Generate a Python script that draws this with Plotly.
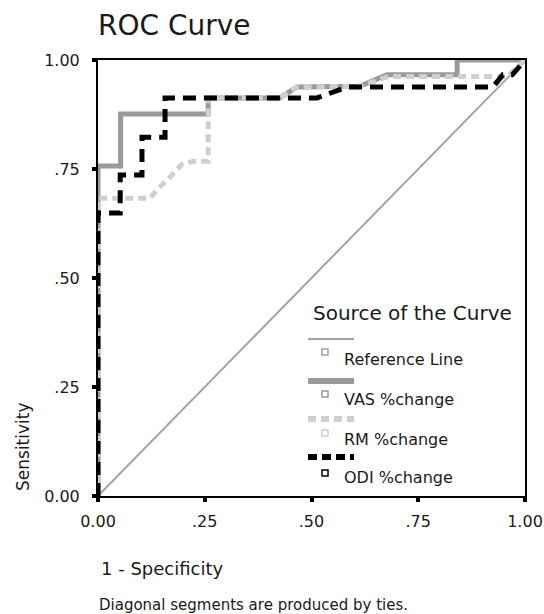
import plotly.graph_objects as go

# ---------------- data ----------------
ref_x = [0.0, 1.0]
ref_y = [0.0, 1.0]

vas_x = [0.0, 0.0, 0.053, 0.053, 0.258, 0.258, 0.426, 0.466, 0.614, 0.677, 0.841, 0.841, 1.0]
vas_y = [0.0, 0.757, 0.757, 0.876, 0.876, 0.913, 0.913, 0.938, 0.940, 0.966, 0.966, 1.0, 1.0]

rm_x = [0.0, 0.0, 0.122, 0.138, 0.169, 0.197, 0.225, 0.258, 0.258, 0.426, 0.466, 0.614, 0.680, 0.958, 1.0]
rm_y = [0.0, 0.683, 0.683, 0.702, 0.732, 0.761, 0.768, 0.768, 0.913, 0.913, 0.938, 0.940, 0.962, 0.962, 1.0]

odi_x = [0.0, 0.0, 0.052, 0.052, 0.103, 0.103, 0.157, 0.157, 0.513, 0.583, 0.925, 0.948, 0.970, 1.0]
odi_y = [0.0, 0.649, 0.649, 0.736, 0.736, 0.823, 0.823, 0.913, 0.913, 0.938, 0.938, 0.966, 0.966, 1.0]

tick_vals = [0.0, 0.25, 0.5, 0.75, 1.0]
tick_text = ["0.00", ".25", ".50", ".75", "1.00"]

series_names = ["Reference Line", "VAS %change", "RM %change", "ODI %change"]

# ---------------- styles ----------------
FONT = "DejaVu Sans"
TXT = "#1a1a1a"
C_REF = "#a3a3a3"
C_VAS = "#9a9a9a"
C_RM = "#cfcfcf"
C_ODI = "#000000"

W, H = 544, 614
L, R, T, B = 98, 525, 60, 496


def px2x(px):
    return (px - L) / (R - L)


def py2y(py):
    return (B - py) / (B - T)


fig = go.Figure()
fig.add_trace(go.Scatter(x=ref_x, y=ref_y, mode="lines", line=dict(color=C_REF, width=2),
                         name=series_names[0], hoverinfo="skip"))
fig.add_trace(go.Scatter(x=vas_x, y=vas_y, mode="lines", line=dict(color=C_VAS, width=5),
                         name=series_names[1]))
fig.add_trace(go.Scatter(x=rm_x, y=rm_y, mode="lines", line=dict(color=C_RM, width=5, dash="8px,5px"),
                         name=series_names[2]))
fig.add_trace(go.Scatter(x=odi_x, y=odi_y, mode="lines", line=dict(color=C_ODI, width=5, dash="13px,8px"),
                         name=series_names[3]))

axis_common = dict(
    range=[0, 1], tickvals=tick_vals, ticktext=tick_text, showgrid=False, zeroline=False,
    showline=True, linecolor="#000", linewidth=2, mirror=True, automargin=False,
    ticks="outside", ticklen=4, tickwidth=4, tickcolor="#000",
    tickfont=dict(family=FONT, size=16, color=TXT),
)
fig.update_xaxes(**axis_common, ticklabelstandoff=6)
fig.update_yaxes(**axis_common, ticklabelstandoff=9)

annotations = [
    dict(text="ROC Curve", x=px2x(96), y=py2y(26), xanchor="left", yanchor="middle",
         font=dict(size=28, family=FONT, color=TXT)),
    dict(text="1 - Specificity", x=px2x(99), y=py2y(568), xanchor="left", yanchor="middle",
         font=dict(size=18, family=FONT, color=TXT)),
    dict(text="Diagonal segments are produced by ties.", x=px2x(97), y=py2y(605), xanchor="left",
         yanchor="middle", font=dict(size=15, family=FONT, color=TXT)),
    dict(text="Sensitivity", x=px2x(23), y=py2y(447), xanchor="center", yanchor="middle", textangle=-90,
         font=dict(size=17, family=FONT, color=TXT)),
    dict(text="Source of the Curve", x=px2x(311), y=py2y(313), xanchor="left", yanchor="middle",
         font=dict(size=20, family=FONT, color=TXT)),
]

shapes = []
leg_line_y = [339, 381, 419, 457]
leg_mark_y = [352, 394, 433, 473]
leg_text_y = [359, 399, 439, 477]
leg_styles = [
    dict(color=C_REF, width=2),
    dict(color=C_VAS, width=6),
    dict(color=C_RM, width=6, dash="8px,5px"),
    dict(color=C_ODI, width=6, dash="9px,5px"),
]
leg_mark_col = [C_REF, C_VAS, C_RM, C_ODI]
for i, name in enumerate(series_names):
    shapes.append(dict(type="line", xref="paper", yref="paper",
                       x0=px2x(308), x1=px2x(354), y0=py2y(leg_line_y[i]), y1=py2y(leg_line_y[i]),
                       line=leg_styles[i]))
    shapes.append(dict(type="rect", xref="paper", yref="paper",
                       x0=px2x(322), x1=px2x(328), y0=py2y(leg_mark_y[i] + 3), y1=py2y(leg_mark_y[i] - 3),
                       line=dict(color=leg_mark_col[i], width=1.5), fillcolor="white"))
    annotations.append(dict(text=name, x=px2x(342), y=py2y(leg_text_y[i]), xanchor="left", yanchor="middle",
                            font=dict(size=16, family=FONT, color=TXT)))

for a in annotations:
    a.update(xref="paper", yref="paper", showarrow=False)

fig.update_layout(
    width=W, height=H,
    margin=dict(l=L, r=W - R, t=T, b=H - B, pad=0, autoexpand=False),
    plot_bgcolor="white", paper_bgcolor="white",
    showlegend=False,
    annotations=annotations, shapes=shapes,
)

fig.write_html("out.html", config={"displayModeBar": False},
               post_script="document.body.style.margin='0';document.body.style.overflow='hidden';")
